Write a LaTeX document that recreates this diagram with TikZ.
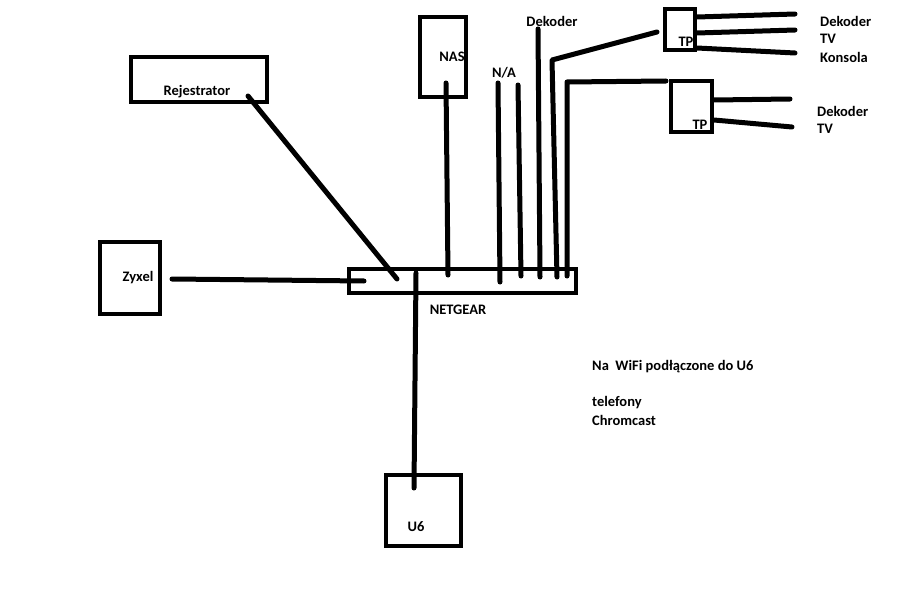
\documentclass[tikz,border=0pt]{standalone}
\usepackage{fontspec}
\setmainfont{Carlito}
\begin{document}
\begin{tikzpicture}[x=1pt,y=-1pt,
  box/.style={draw=black,line width=4pt,rectangle,inner sep=0pt,outer sep=0pt},
  wire/.style={line width=5pt,line cap=round,line join=round},
  lbl/.style={inner sep=0pt,font=\fontsize{14.5}{17}\selectfont\bfseries},
  lbll/.style={lbl,anchor=west}]
\useasboundingbox[fill=white] (0,0) rectangle (903,594);
% boxes
\node[box,minimum width=136pt,minimum height=45pt] (rej) at (199,79.5) {};
\node[box,minimum width=46pt,minimum height=80pt] (nas) at (443,57) {};
\node[box,minimum width=60pt,minimum height=72pt] (zyx) at (130,278) {};
\node[box,minimum width=227pt,minimum height=24pt] (ng) at (462.5,281) {};
\node[box,minimum width=75pt,minimum height=71pt] (u6) at (423,510.5) {};
\node[box,minimum width=30pt,minimum height=41pt] (tp1) at (680,29.5) {};
\node[box,minimum width=41pt,minimum height=51pt] (tp2) at (691.5,106.5) {};
% labels
\node[lbl] (lrej) at (197,92) {Rejestrator};
\node[lbl] (lnas) at (452,57) {NAS};
\node[lbl] (lzyx) at (138,278) {Zyxel};
\node[lbl] (lng) at (458,310) {NETGEAR};
\node[lbl] (lu6) at (416,527) {U6};
\node[lbl] (ltp1) at (686,42) {TP};
\node[lbl] (ltp2) at (700,125) {TP};
\node[lbl] (lna) at (504,73) {N/A};
\node[lbl] (ldek) at (552,21) {Dekoder};
\node[lbll] (r1) at (820,21) {Dekoder};
\node[lbll] (r2) at (820,39) {TV};
\node[lbll] (r3) at (820,57) {Konsola};
\node[lbll] (r4) at (817,111) {Dekoder};
\node[lbll] (r5) at (817,129) {TV};
\node[lbll] (w1) at (592,367) {Na\ \ WiFi podłączone do U6};
\node[lbll] (w2) at (592,403) {telefony};
\node[lbll] (w3) at (592,420) {Chromcast};
% coordinates
\coordinate (rejp) at (248,96);
\coordinate (ngrej) at (397,279);
\coordinate (zyxp) at (172,279);
\coordinate (ngzyx) at (364,281);
\coordinate (nasp) at (446,83);
\coordinate (ngnas) at (448,275);
\coordinate (na1t) at (498,83);
\coordinate (na1b) at (500,282);
\coordinate (na2t) at (518,85);
\coordinate (na2b) at (521,276);
\coordinate (dekt) at (538,29);
\coordinate (dekb) at (540,277);
\coordinate (t1b) at (557,277);
\coordinate (t1c) at (552,60);
\coordinate (t1e) at (657,32);
\coordinate (t2b) at (567,276);
\coordinate (t2c) at (567,82);
\coordinate (t2e) at (666,81);
\coordinate (ngu6) at (416,273);
\coordinate (u6p) at (414,488);
\coordinate (a1) at (697,17); \coordinate (b1) at (795,14);
\coordinate (a2) at (697,33); \coordinate (b2) at (795,30);
\coordinate (a3) at (697,48); \coordinate (b3) at (795,53);
\coordinate (a4) at (714,100); \coordinate (b4) at (790,99);
\coordinate (a5) at (714,120); \coordinate (b5) at (792,127);
% wires
\draw[wire] (rejp) -- (ngrej);
\draw[wire] (zyxp) -- (ngzyx);
\draw[wire] (nasp) -- (ngnas);
\draw[wire] (na1t) -- (na1b);
\draw[wire] (na2t) -- (na2b);
\draw[wire] (dekt) -- (dekb);
\draw[wire] (t1b) -- (t1c) -- (t1e);
\draw[wire] (t2b) -- (t2c) -- (t2e);
\draw[wire] (ngu6) -- (u6p);
\draw[wire] (a1) -- (b1);
\draw[wire] (a2) -- (b2);
\draw[wire] (a3) -- (b3);
\draw[wire] (a4) -- (b4);
\draw[wire] (a5) -- (b5);
\end{tikzpicture}
\end{document}
